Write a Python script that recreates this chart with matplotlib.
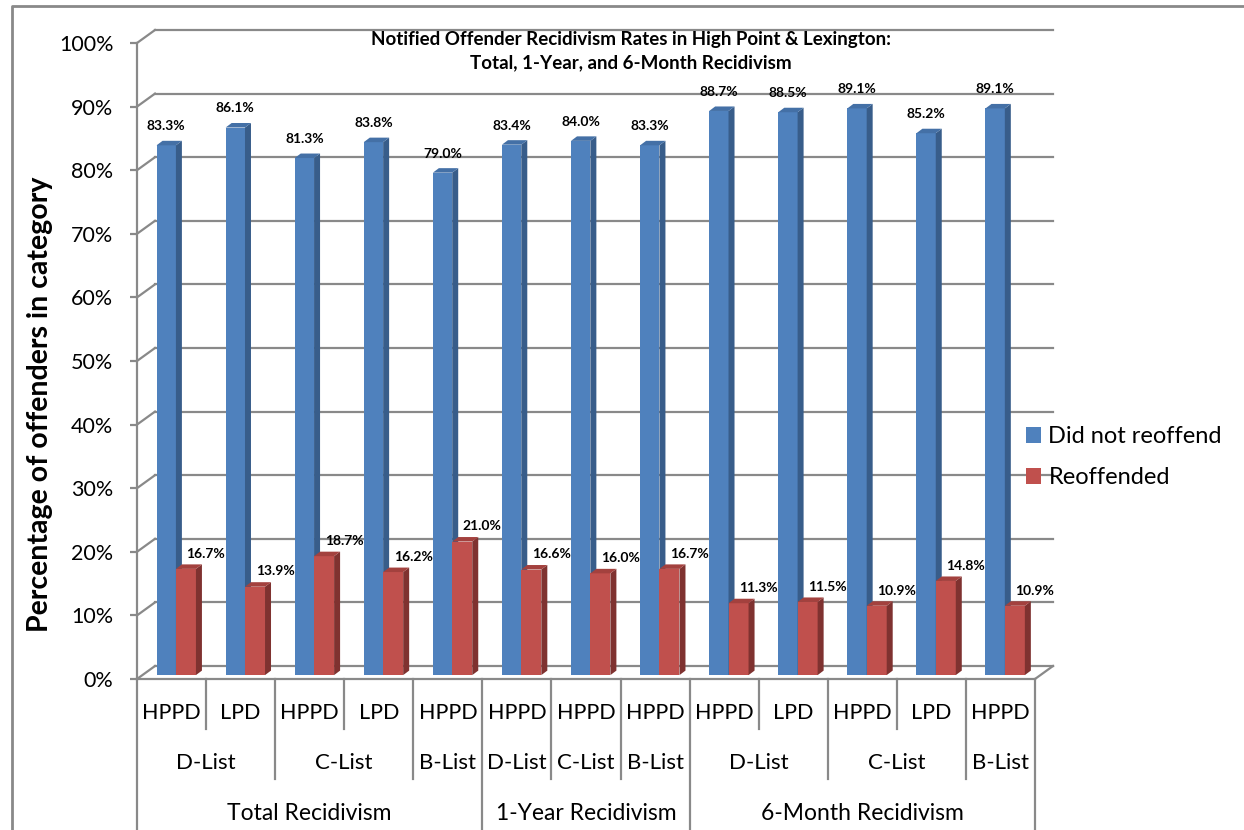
import matplotlib
matplotlib.use("Agg")
import matplotlib.pyplot as plt
from matplotlib.patches import Polygon, Patch
from matplotlib.lines import Line2D
import matplotlib.transforms as mtransforms

plt.rcParams['font.family'] = ['Lato', 'DejaVu Sans']

# ---------------- data ----------------
agency = ["HPPD", "LPD", "HPPD", "LPD", "HPPD", "HPPD", "HPPD", "HPPD",
          "HPPD", "LPD", "HPPD", "LPD", "HPPD"]
lists = [("D-List", 2), ("C-List", 2), ("B-List", 1), ("D-List", 1), ("C-List", 1),
         ("B-List", 1), ("D-List", 2), ("C-List", 2), ("B-List", 1)]
groups = [("Total Recidivism", 5), ("1-Year Recidivism", 3), ("6-Month Recidivism", 5)]
did_not_reoffend = [83.3, 86.1, 81.3, 83.8, 79.0, 83.4, 84.0, 83.3, 88.7, 88.5, 89.1, 85.2, 89.1]
reoffended = [16.7, 13.9, 18.7, 16.2, 21.0, 16.6, 16.0, 16.7, 11.3, 11.5, 10.9, 14.8, 10.9]
series_names = ["Did not reoffend", "Reoffended"]
yticks = [0, 10, 20, 30, 40, 50, 60, 70, 80, 90, 100]
title_lines = ["Notified Offender Recidivism Rates in High Point & Lexington:",
               "Total, 1-Year, and 6-Month Recidivism"]
ylabel = "Percentage of offenders in category"

# ---------------- style ----------------
GRID = "#898989"
BLUE = ("#4F81BD", "#385D8A", "#4470A6")
RED = ("#C0504D", "#7F3230", "#A3413E")

W, H = 1244, 830
fig = plt.figure(figsize=(W / 100, H / 100), dpi=100)
L, R, B, T = 137, 1035, 679, 43
ax = fig.add_axes([L / W, (H - B) / H, (R - L) / W, (B - T) / H])
n = len(agency)
ax.set_xlim(0, n)
ax.set_ylim(0, 100)

# depth of the 3D box in data units
px_x = (R - L) / n
px_y = (B - T) / 100
DX, DY = 18 / px_x, 13 / px_y

for s in ["top", "right"]:
    ax.spines[s].set_visible(False)
for s in ["left", "bottom"]:
    ax.spines[s].set_color(GRID)
    ax.spines[s].set_linewidth(1.6)
ax.set_xticks([])
ax.set_yticks(yticks)
ax.set_yticklabels([f"{t}%" for t in yticks], fontsize=15.5)
ax.tick_params(axis="y", length=5, width=1.6, color=GRID, pad=12)

# back wall gridlines + diagonals
for t in yticks:
    ax.plot([DX, n + DX], [t + DY, t + DY], color=GRID, lw=1.6, clip_on=False, zorder=1)
    ax.plot([0, DX], [t, t + DY], color=GRID, lw=1.6, clip_on=False, zorder=1)
# floor right edge
ax.plot([n, n + DX], [0, DY], color=GRID, lw=1.6, clip_on=False, zorder=1)

# ---------------- 3D columns ----------------
base = 0.3 * DY
shift = 0.3 * DX
sx, sy = 6 / px_x, 4.5 / px_y
wb, wr = 0.28, 0.29
z = 3


def column(x, w, v, cols, zo):
    ax.bar(x, v, w, bottom=base, align="edge", color=cols[0], linewidth=0, zorder=zo)
    ax.add_patch(Polygon([(x + w, base), (x + w + sx, base + sy), (x + w + sx, base + v + sy),
                          (x + w, base + v)], closed=True, facecolor=cols[1], lw=0, zorder=zo))
    ax.add_patch(Polygon([(x, base + v), (x + w, base + v), (x + w + sx, base + v + sy),
                          (x + sx, base + v + sy)], closed=True, facecolor=cols[2], lw=0, zorder=zo))


for i in range(n):
    xb = i + 0.205 + shift
    xr = xb + wb
    column(xb, wb, did_not_reoffend[i], BLUE, z)
    column(xr, wr, reoffended[i], RED, z + 0.1)
    z += 0.2
    ax.text(xb + wb / 2, base + did_not_reoffend[i] + 3.0, f"{did_not_reoffend[i]:.1f}%",
            ha="center", va="center", fontsize=10, fontweight="bold", zorder=10)
    ax.text(xr + wr / 2 + 0.29, base + reoffended[i] + 2.4, f"{reoffended[i]:.1f}%",
            ha="center", va="center", fontsize=10, fontweight="bold", zorder=10)

# ---------------- category table ----------------
tr = mtransforms.blended_transform_factory(ax.transData, ax.transAxes)


def ay(p):
    return -(p - B) / (B - T)


row_text = [ay(713), ay(763), ay(813)]
row_bot = [ay(729), ay(779), ay(830)]

for i, lab in enumerate(agency):
    ax.text(i + 0.5, row_text[0], lab, transform=tr, ha="center", va="center", fontsize=15.5)

bounds2 = [0]
pos = 0
for lab, k in lists:
    ax.text(pos + k / 2, row_text[1], lab, transform=tr, ha="center", va="center", fontsize=16)
    pos += k
    bounds2.append(pos)
bounds3 = [0]
pos = 0
for lab, k in groups:
    ax.text(pos + k / 2, row_text[2], lab, transform=tr, ha="center", va="center", fontsize=16.5)
    pos += k
    bounds3.append(pos)

for k in range(n + 1):
    if k in bounds3:
        yb = row_bot[2]
    elif k in bounds2:
        yb = row_bot[1]
    else:
        yb = row_bot[0]
    ax.plot([k, k], [0, yb], transform=tr, color=GRID, lw=1.6, clip_on=False, zorder=1)

# ---------------- title, label, legend ----------------
for line, yp in zip(title_lines, [40, 63]):
    fig.text(631 / W, 1 - yp / H, line, ha="center", va="center", fontsize=13.5,
             fontweight="bold")
fig.text(40 / W, 1 - 404 / H, ylabel, rotation=90, ha="center", va="center",
         fontsize=20.5, fontweight="bold")

handles = [Patch(facecolor=BLUE[0], edgecolor="none"), Patch(facecolor=RED[0], edgecolor="none")]
fig.legend(handles, series_names, loc="center left", bbox_to_anchor=(1026 / W, 1 - 457 / H),
           frameon=False, fontsize=17, handlelength=0.65, handleheight=0.65,
           handletextpad=0.3, labelspacing=0.85, borderpad=0, borderaxespad=0)

# chart border
fig.add_artist(Line2D([12 / W, 12 / W, 1], [0, 1 - 6 / H, 1 - 6 / H], transform=fig.transFigure,
                      color=GRID, lw=2))

fig.savefig("out.png", dpi=100)
